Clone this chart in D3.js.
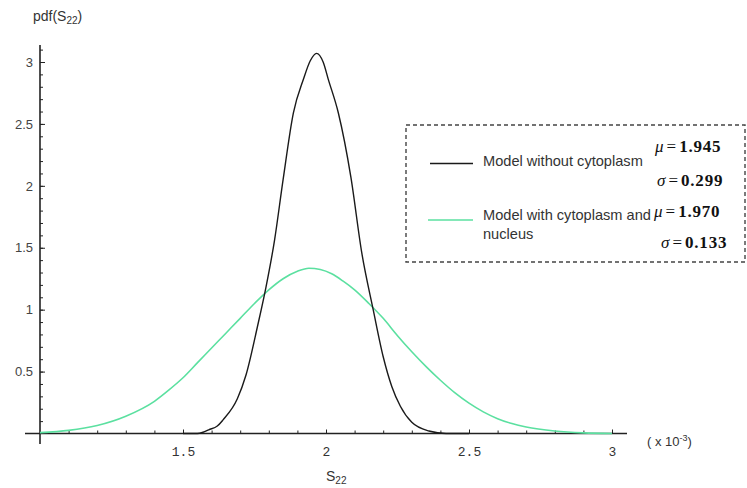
<!DOCTYPE html>
<html>
<head>
<meta charset="utf-8">
<script src="https://cdn.jsdelivr.net/npm/d3@7/dist/d3.min.js"></script>
<style>
  body { margin: 0; background: #fff; }
  svg { display: block; }
  .tick text { font-family: "Liberation Sans", Arial, sans-serif; }
</style>
</head>
<body>
<svg width="747" height="488"></svg>
<script>
// readings, S22 in units of 1e-3
var blackX = [1.50, 1.55, 1.57, 1.59, 1.62, 1.64, 1.69, 1.72, 1.76, 1.79, 1.82, 1.85, 1.886, 1.921, 1.945, 1.967,
              1.99, 2.008, 2.043, 2.087, 2.125, 2.165, 2.20, 2.23, 2.26, 2.30, 2.36, 2.42, 2.50];
var blackY = [0.00, 0.00, 0.01, 0.03, 0.06, 0.11, 0.28, 0.47, 0.86, 1.18, 1.56, 2.05, 2.59, 2.86, 3.01, 3.07,
              3.00, 2.86, 2.59, 2.07, 1.46, 1.00, 0.62, 0.38, 0.22, 0.09, 0.02, 0.00, 0.00];

var greenX = [1.00, 1.10, 1.20, 1.30, 1.40, 1.45, 1.50, 1.55, 1.60, 1.65, 1.70, 1.75, 1.80, 1.85, 1.90, 1.94,
              1.98, 2.02, 2.06, 2.10, 2.15, 2.20, 2.25, 2.30, 2.35, 2.40, 2.45, 2.50, 2.55, 2.60, 2.65, 2.70, 2.80, 2.90, 3.00];
var greenY = [0.007, 0.025, 0.065, 0.14, 0.26, 0.35, 0.45, 0.57, 0.69, 0.81, 0.93, 1.05, 1.16, 1.25, 1.31, 1.335,
              1.325, 1.29, 1.23, 1.16, 1.05, 0.93, 0.79, 0.66, 0.54, 0.43, 0.33, 0.245, 0.175, 0.12, 0.08, 0.052, 0.02, 0.005, 0.0];

var xMajor = [1.5, 2, 2.5, 3];
var yMajor = [0.5, 1, 1.5, 2, 2.5, 3];

var seriesNames = ["Model without cytoplasm", "Model with cytoplasm and", "nucleus"];
var muLabels = ["1.945", "1.970"];
var sigmaLabels = ["0.299", "0.133"];

var svg = d3.select("svg");
var green = "#5be0a0";

var x = d3.scaleLinear().domain([1, 3]).range([40, 612]);
var y = d3.scaleLinear().domain([0, 3]).range([433.5, 62]);

var xMinor = d3.range(11, 31).map(function(d) { return d / 10; });
var yMinor = d3.range(1, 32).map(function(d) { return d / 10; });

// minor ticks
svg.append("g")
    .attr("transform", "translate(0,433.5)")
    .call(d3.axisBottom(x).tickValues(xMinor).tickSize(-3).tickFormat(""))
    .call(function(g) { g.select(".domain").remove(); g.selectAll("line").attr("stroke", "#222"); });

svg.append("g")
    .attr("transform", "translate(40,0)")
    .call(d3.axisLeft(y).tickValues(yMinor).tickSize(-3).tickFormat(""))
    .call(function(g) { g.select(".domain").remove(); g.selectAll("line").attr("stroke", "#222"); });

// major ticks + labels
svg.append("g")
    .attr("transform", "translate(0,433.5)")
    .call(d3.axisBottom(x).tickValues(xMajor).tickSize(-4).tickPadding(13).tickFormat(d3.format("")))
    .call(function(g) {
      g.select(".domain").remove();
      g.selectAll("line").attr("stroke", "#222");
      g.selectAll("text")
        .attr("fill", "#333")
        .style("font-family", "'Liberation Mono', 'DejaVu Sans Mono', monospace")
        .style("font-size", "13px");
    });

svg.append("g")
    .attr("transform", "translate(40,0)")
    .call(d3.axisLeft(y).tickValues(yMajor).tickSize(-5).tickPadding(7).tickFormat(d3.format("")))
    .call(function(g) {
      g.select(".domain").remove();
      g.selectAll("line").attr("stroke", "#222");
      g.selectAll("text").attr("fill", "#444").style("font-size", "13px");
    });

// axis lines
svg.append("line").attr("x1", 25).attr("x2", 627).attr("y1", 433.5).attr("y2", 433.5)
    .attr("stroke", "#222").attr("stroke-width", 1.6);
svg.append("line").attr("x1", 40).attr("x2", 40).attr("y1", 45).attr("y2", 444)
    .attr("stroke", "#222").attr("stroke-width", 1.6);

// curves
var line = d3.line()
    .x(function(d) { return x(d[0]); })
    .y(function(d) { return y(d[1]); })
    .curve(d3.curveMonotoneX);

svg.append("path")
    .datum(d3.zip(greenX, greenY))
    .attr("d", line)
    .attr("fill", "none")
    .attr("stroke", green)
    .attr("stroke-width", 1.6);

svg.append("path")
    .datum(d3.zip(blackX, blackY))
    .attr("d", line)
    .attr("fill", "none")
    .attr("stroke", "#1a1a1a")
    .attr("stroke-width", 1.4);

// axis titles
var sans = "'Liberation Sans', Arial, sans-serif";

var yt = svg.append("text").attr("x", 33).attr("y", 21)
    .attr("font-family", sans).attr("font-size", 14).attr("fill", "#333");
yt.append("tspan").text("pdf(S");
yt.append("tspan").attr("font-size", 10).attr("dy", 3).text("22");
yt.append("tspan").attr("dy", -3).text(")");

var xt = svg.append("text").attr("x", 326).attr("y", 481)
    .attr("font-family", sans).attr("font-size", 14).attr("fill", "#333");
xt.append("tspan").text("S");
xt.append("tspan").attr("font-size", 10).attr("dy", 3).text("22");

var ex = svg.append("text").attr("x", 647).attr("y", 446)
    .attr("font-family", sans).attr("font-size", 13).attr("fill", "#333");
ex.append("tspan").text("( x 10");
ex.append("tspan").attr("font-size", 9).attr("dy", -5).text("-3");
ex.append("tspan").attr("dy", 5).text(")");

// legend
var legend = svg.append("g");
legend.append("rect")
    .attr("x", 406).attr("y", 125).attr("width", 339).attr("height", 137)
    .attr("fill", "#fff").attr("stroke", "#444").attr("stroke-width", 1.4)
    .attr("stroke-dasharray", "4,3");

legend.append("line").attr("x1", 430).attr("x2", 473).attr("y1", 163.5).attr("y2", 163.5)
    .attr("stroke", "#1a1a1a").attr("stroke-width", 1.4);
legend.append("line").attr("x1", 428).attr("x2", 473).attr("y1", 220).attr("y2", 220)
    .attr("stroke", green).attr("stroke-width", 1.6);

[[166, 0], [220, 1], [239, 2]].forEach(function(r) {
  legend.append("text").attr("x", 483).attr("y", r[0])
      .attr("font-family", sans).attr("font-size", 14.6).attr("fill", "#333")
      .text(seriesNames[r[1]]);
});

var serif = "'Liberation Serif', 'Times New Roman', serif";
function stat(xp, yp, sym, val) {
  var t = legend.append("text").attr("x", xp).attr("y", yp)
      .attr("font-family", serif).attr("font-size", 17).attr("fill", "#111");
  t.append("tspan").attr("font-style", "italic").text(sym);
  t.append("tspan").attr("dx", 3).text("=");
  t.append("tspan").attr("dx", 3).attr("font-weight", "bold")
      .attr("letter-spacing", 0.8).text(val);
}
stat(655, 152, "\u03bc", muLabels[0]);
stat(657, 186, "\u03c3", sigmaLabels[0]);
stat(654, 217, "\u03bc", muLabels[1]);
stat(661, 248, "\u03c3", sigmaLabels[1]);
</script>
</body>
</html>
